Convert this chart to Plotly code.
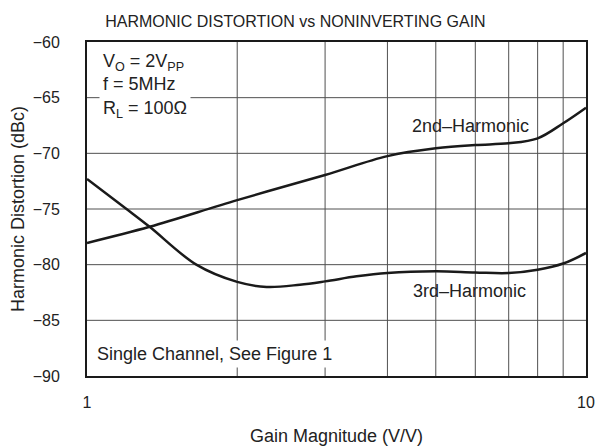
import plotly.graph_objects as go

# Data
gain_2nd = [1.0, 1.335, 2.0, 3.0, 4.0, 5.0, 6.0, 7.0, 8.0, 9.0, 10.0]
hd2_dbc = [-78.05, -76.6, -74.2, -71.95, -70.25, -69.55, -69.25, -69.1, -68.65, -67.3, -65.9]

gain_3rd = [1.0, 1.2, 1.335, 1.656, 2.0, 2.29, 2.67, 3.0, 3.47, 4.0, 5.0, 6.0, 7.0, 8.0, 9.0, 10.0]
hd3_dbc = [-72.3, -75.0, -76.6, -80.0, -81.55, -82.0, -81.8, -81.5, -81.05, -80.75, -80.6, -80.7, -80.75, -80.45, -79.9, -78.95]

y_ticks = [-90, -85, -80, -75, -70, -65, -60]
x_ticks = [1, 10]
x_ticklabels = ["1", "10"]
x_grid = [2, 3, 4, 5, 6, 7, 8, 9]

FONT = "Liberation Sans, Arial, Helvetica, sans-serif"
GRID = "#505050"

fig = go.Figure()

for g in x_grid:
    fig.add_shape(type="line", xref="x", yref="paper", x0=g, x1=g, y0=0, y1=1,
                  line=dict(color=GRID, width=1), layer="below")
for yv in y_ticks[1:-1]:
    fig.add_shape(type="line", xref="paper", yref="y", x0=0, x1=1, y0=yv, y1=yv,
                  line=dict(color=GRID, width=1), layer="below")

fig.add_trace(go.Scatter(x=gain_2nd, y=hd2_dbc, mode="lines",
                         line=dict(color="#1a1a1a", width=2.5, shape="spline", smoothing=1.0), showlegend=False))
fig.add_trace(go.Scatter(x=gain_3rd, y=hd3_dbc, mode="lines",
                         line=dict(color="#1a1a1a", width=2.5, shape="spline", smoothing=1.0), showlegend=False))

fig.update_layout(
    template="none",
    width=598, height=448,
    margin=dict(l=87, r=12, t=42, b=72, autoexpand=False),
    paper_bgcolor="white", plot_bgcolor="white",
    font=dict(family=FONT, size=16, color="#222"),
    title=dict(text="HARMONIC DISTORTION vs NONINVERTING GAIN", x=0.494, xref="container", xanchor="center",
               y=0.953, yref="container", yanchor="middle", font=dict(size=16, color="#222")),
    xaxis=dict(type="log", range=[0, 1], tickvals=x_ticks, ticktext=x_ticklabels,
               showgrid=False, zeroline=False, ticks="", ticklabelstandoff=11, automargin=False,
               showline=True, linecolor="#1a1a1a", linewidth=2, mirror=True,
               title=dict(text="Gain Magnitude (V/V)", font=dict(size=18), standoff=19),
               tickfont=dict(size=16)),
    yaxis=dict(range=[-90, -60], tickvals=y_ticks, showgrid=False, zeroline=False,
               ticks="", ticklabelstandoff=22, automargin=False,
               showline=True, linecolor="#1a1a1a", linewidth=2, mirror=True,
               title=dict(text="Harmonic Distortion (dBc)", font=dict(size=18), standoff=3),
               tickfont=dict(size=16)),
)

fig.add_annotation(xref="paper", yref="paper", x=0.024, y=0.868, xanchor="left", yanchor="middle",
                   text="V<sub>O</sub> = 2V<sub>PP</sub><br>f = 5MHz<br>R<sub>L</sub> = 100Ω",
                   align="left", showarrow=False, bgcolor="white", borderpad=3,
                   font=dict(size=18, color="#222"))
fig.add_annotation(xref="paper", yref="paper", x=0.012, y=0.066, xanchor="left", yanchor="middle",
                   text="Single Channel, See Figure 1", showarrow=False, bgcolor="white", borderpad=3,
                   font=dict(size=18, color="#222"))
fig.add_annotation(xref="paper", yref="paper", x=0.768, y=0.749, xanchor="center", yanchor="middle",
                   text="2nd–Harmonic", showarrow=False, font=dict(size=18, color="#222"))
fig.add_annotation(xref="paper", yref="paper", x=0.766, y=0.255, xanchor="center", yanchor="middle",
                   text="3rd–Harmonic", showarrow=False, font=dict(size=18, color="#222"))

fig.write_html("out.html", config={"displayModeBar": False, "staticPlot": True},
               post_script="document.body.style.margin='0';document.body.style.overflow='hidden';")
